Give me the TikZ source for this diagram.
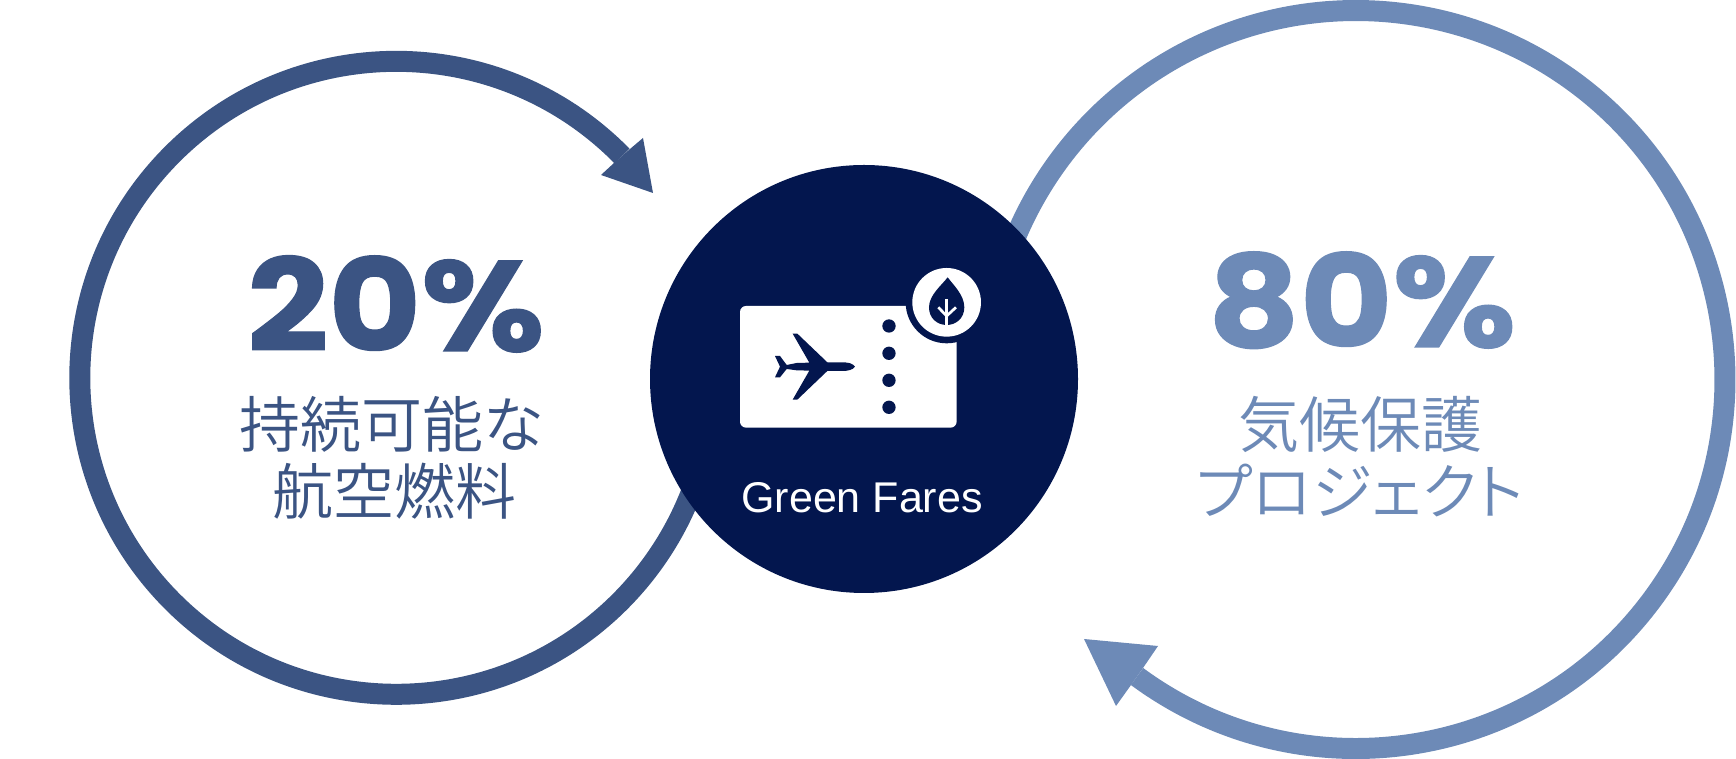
\documentclass[tikz,border=0pt]{standalone}
\usepackage{fontspec}
\usetikzlibrary{positioning}
\newfontfamily\numfont{Poppins}[UprightFont=* Bold,FakeBold=1,FakeStretch=1.11]
\newfontfamily\jpfont{Noto Sans CJK JP DemiLight}
\newfontfamily\kanafont{Noto Sans CJK JP DemiLight}[RawFeature=+palt]
\newfontfamily\capfont{Liberation Sans}
\definecolor{navy}{HTML}{03164E}
\definecolor{midblue}{HTML}{3B5483}
\definecolor{lightblue}{HTML}{6D8AB7}
\tikzset{
  percent/.style={anchor=base,inner sep=0pt,font=\numfont\fontsize{128}{128}\selectfont},
  jpline/.style={anchor=base,inner sep=0pt,font=\jpfont\fontsize{61}{66}\selectfont},
  ring/.style={line width=21pt},
}
\begin{document}
\begin{tikzpicture}[x=1pt,y=1pt]
  \useasboundingbox (0,0) rectangle (1736,759);
  \draw[ring,midblue] (622,603) arc[start angle=44.5,end angle=345,radius=316.5];
  \fill[midblue] (630,610) -- (643,621) -- (653,566) -- (601,584) -- (614,596) -- cycle;
  \draw[ring,lightblue] (1137,82.5) arc[start angle=233.6,end angle=525,radius=369];
  \fill[lightblue] (1143,91) -- (1158,113) -- (1084,120) -- (1116,53) -- (1131,74) -- cycle;
  \node[circle,fill=navy,minimum size=428pt,inner sep=0pt] (hub) at (864,380) {};
  \node[anchor=base,inner sep=0pt,text=white,font=\capfont\fontsize{43}{43}\selectfont] (caption) at (862,246) {Green Fares};
  \node[percent,text=midblue] (lefttop) at (396,408) {20\%};
  \node[jpline,text=midblue] (leftone) at (392,311) {持続可能な};
  \node[jpline,text=midblue] (lefttwo) at (394,244) {航空燃料};
  \node[percent,text=lightblue] (righttop) at (1362,412) {80\%};
  \node[jpline,text=lightblue] (rightone) at (1360,311) {気候保護};
  \node[jpline,text=lightblue,font=\kanafont\fontsize{61}{66}\selectfont] (righttwo) at (1360,244) {プロジェクト};
  \begin{scope}[shift={(720pt,509pt)},x=0.3333pt,y=-0.3333pt]
    \fill[white,rounded corners=6pt] (60,168) rectangle (710,533);
    \fill[navy] (680,157) circle[radius=123];
    \fill[white] (680,157) circle[radius=103];
    \foreach \dy in {228,310,391,472}
      \fill[navy] (507,\dy) circle[radius=20];
    \fill[navy] (405,350) .. controls (398,340) and (385,337) .. (365,337) -- (322,337) -- (232,251) -- (218,251) -- (268,338) -- (230,339) -- (200,345) -- (180,318) -- (165,318) -- (180,350) -- (165,382) -- (180,382) -- (200,357) -- (230,361) -- (268,362) -- (218,449) -- (232,449) -- (322,363) -- (365,363) .. controls (385,363) and (398,360) .. (405,350) -- cycle;
    \fill[navy] (683,82) .. controls (700,105) and (733,135) .. (733,172) .. controls (733,205) and (708,225) .. (680,225) .. controls (652,225) and (627,205) .. (627,172) .. controls (627,135) and (666,105) .. (683,82) -- cycle;
    \draw[white,line width=2.7pt] (680,148) -- (680,225);
    \draw[white,line width=2.7pt] (655,172) -- (680,198) -- (708,172);
  \end{scope}
\end{tikzpicture}
\end{document}
